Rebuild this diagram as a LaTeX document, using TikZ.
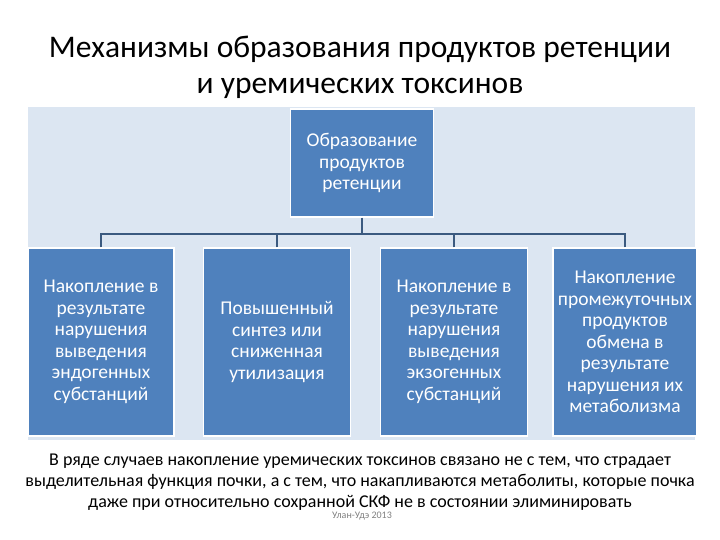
\documentclass[tikz,border=0pt]{standalone}
\usepackage{fontspec}
\setmainfont{Carlito}
\definecolor{bx}{HTML}{4F81BD}
\definecolor{bg}{HTML}{DCE6F2}
\definecolor{ln}{HTML}{3B5A80}
\begin{document}
\begin{tikzpicture}[x=1pt,y=-1pt,
  box/.style={draw=white,line width=1.5pt,fill=bx,text=white,align=center,font=\fontsize{19.5}{21.5}\selectfont,inner sep=0pt},
  conn/.style={draw=ln,line width=1.3pt}]
\useasboundingbox (0,0) rectangle (720,540);
\fill[bg] (28,107) rectangle (695,440);
\node[font=\fontsize{31.5}{36}\selectfont,align=center] (title) at (360,67) {Механизмы образования продуктов ретенции\\и уремических токсинов};
\node[box,minimum width=143pt,minimum height=108pt] (top) at (362,163) {Образование\\продуктов\\ретенции};
\node[box,minimum width=146pt,minimum height=188pt] (c1) at (101,342) {Накопление в\\результате\\нарушения\\выведения\\эндогенных\\субстанций};
\node[box,minimum width=147pt,minimum height=188pt] (c2) at (277,342) {Повышенный\\синтез или\\сниженная\\утилизация};
\node[box,minimum width=147pt,minimum height=188pt] (c3) at (454,342) {Накопление в\\результате\\нарушения\\выведения\\экзогенных\\субстанций};
\node[box,minimum width=144pt,minimum height=188pt] (c4) at (625,342) {Накопление\\промежуточных\\продуктов\\обмена в\\результате\\нарушения их\\метаболизма};
\coordinate (h) at (362,234);
\draw[conn] (top.south) -- (h);
\draw[conn] (c1.north) |- (h);
\draw[conn] (c4.north) |- (h);
\draw[conn] (c2.north) -- (c2.north |- h);
\draw[conn] (c3.north) -- (c3.north |- h);
\node[font=\fontsize{18}{21}\selectfont,align=center] (txt) at (360,482) {В ряде случаев накопление уремических токсинов связано не с тем, что страдает\\выделительная функция почки, а с тем, что накапливаются метаболиты, которые почка\\даже при относительно сохранной СКФ не в состоянии элиминировать};
\node[font=\fontsize{10}{11}\selectfont,text=gray] (city) at (362,516) {Улан-Удэ 2013};
\end{tikzpicture}
\end{document}
